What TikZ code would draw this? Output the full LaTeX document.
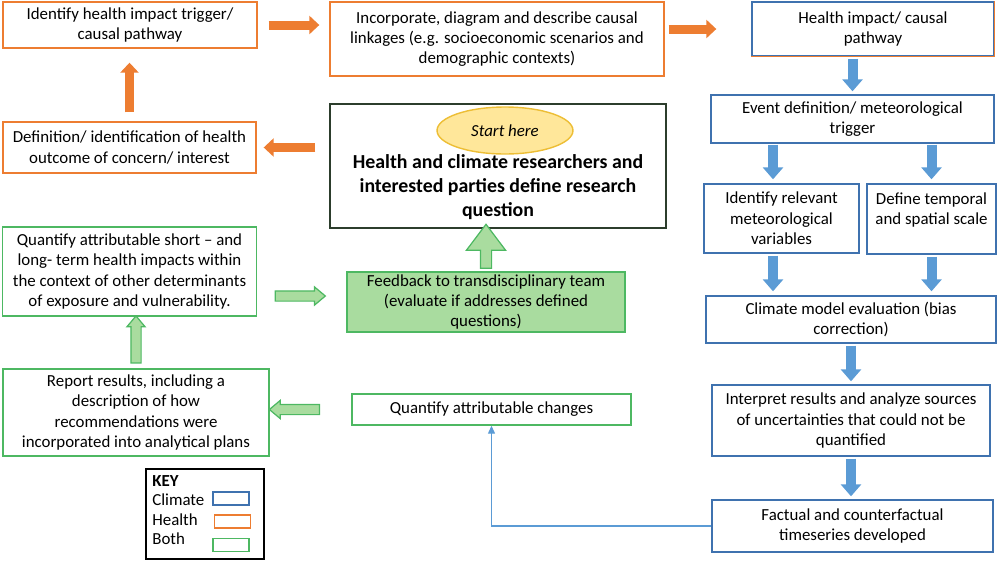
\documentclass[tikz,border=0pt]{standalone}
\usepackage{fontspec}
\setmainfont{Carlito}
\usetikzlibrary{arrows.meta,shapes.geometric,shapes.arrows}

\definecolor{hlorange}{HTML}{ED7D31}
\definecolor{clblue}{HTML}{3F72AF}
\definecolor{arblue}{HTML}{5B9BD5}
\definecolor{bothgreen}{HTML}{4DB862}
\definecolor{fbgreen}{HTML}{A9DC9F}
\definecolor{startfill}{HTML}{FFE79A}
\definecolor{startline}{HTML}{EDBE35}
\definecolor{mainline}{HTML}{2C3D2C}

\begin{document}
\begin{tikzpicture}[
    x=0.02cm, y=-0.02cm,
    font=\fontsize{9.6}{11.6}\selectfont,
    % Kaesten
    box/.style={draw, line width=0.8pt, align=center, inner sep=1pt},
    climate/.style={box, draw=clblue},
    health/.style={box, draw=hlorange},
    both/.style={box, draw=bothgreen},
    % Blockpfeile
    harrow/.style={hlorange, line width=0.18cm, -{Triangle[length=0.2cm, width=0.36cm]}},
    carrow/.style={arblue, line width=0.2cm, -{Triangle[length=0.24cm, width=0.4cm]}},
    garrow/.style={single arrow, draw=bothgreen, fill=fbgreen, line width=0.7pt,
        sloped, allow upside down, inner xsep=0pt, inner ysep=0.09cm,
        text height=0pt, text depth=0pt, minimum width=0.34cm,
        single arrow head extend=0.08cm, single arrow tip angle=80},
    bigarrow/.style={garrow, inner ysep=0.1cm, minimum width=0.76cm,
        single arrow head extend=0.28cm, single arrow tip angle=74},
    thinarr/.style={arblue, line width=0.7pt, -{Triangle[length=0.16cm, width=0.14cm]}},
    keytext/.style={anchor=west, inner sep=0pt},
    swatch/.style={draw, line width=0.7pt, minimum width=0.72cm, minimum height=0.26cm, inner sep=0pt}
]

\useasboundingbox (0,0) rectangle (1000,562);

% --- Gesundheit (orange) ---
\node[health, minimum width=5.08cm, minimum height=0.92cm] (idtrig) at (130,25)
    {Identify health impact trigger/\\causal pathway};
\node[health, minimum width=6.68cm, minimum height=1.48cm] (incorp) at (497,39)
    {Incorporate, diagram and describe causal\\linkages (e.g. socioeconomic scenarios and\\demographic contexts)};
\node[health, minimum width=5.06cm, minimum height=1.02cm] (defout) at (129.5,147.5)
    {Definition/ identification of health\\outcome of concern/ interest};

% --- Start ---
\node[box, draw=mainline, minimum width=6.72cm, minimum height=2.48cm] (main) at (498,166) {};
\node[ellipse, draw=startline, fill=startfill, line width=0.8pt, minimum width=2.72cm,
    minimum height=0.94cm, inner sep=0pt] (start) at (505,130.5) {\textit{Start here}};
\node[align=center, font=\fontsize{11.3}{13.7}\selectfont\bfseries] (question) at (498,187)
    {Health and climate researchers and\\interested parties define research\\question};

% --- Klima (blau) ---
\node[climate, minimum width=4.84cm, minimum height=1.08cm] (hip) at (873,29)
    {Health impact/ causal\\pathway};
\draw[hlorange, line width=0.8pt] (hip.north east) -- (hip.south east) -- (hip.south west);
\node[climate, minimum width=5.66cm, minimum height=0.96cm] (event) at (852.5,119)
    {Event definition/ meteorological\\trigger};
\node[climate, minimum width=3.1cm, minimum height=1.38cm] (relvar) at (781.5,218.5)
    {Identify relevant\\meteorological\\variables};
\node[climate, minimum width=2.58cm, minimum height=1.4cm] (scale) at (931.5,219)
    {Define temporal\\and spatial scale\\~};
\node[climate, minimum width=5.8cm, minimum height=0.94cm] (climeval) at (851,319.5)
    {Climate model evaluation (bias\\correction)};
\node[climate, minimum width=5.56cm, minimum height=1.42cm] (interp) at (851,420.5)
    {Interpret results and analyze sources\\of uncertainties that could not be\\quantified};
\node[climate, minimum width=5.62cm, minimum height=1.04cm] (factual) at (852.5,526)
    {Factual and counterfactual\\timeseries developed};

% --- Beides (gruen) ---
\node[both, minimum width=5.08cm, minimum height=1.78cm] (quantshort) at (129.5,271.5)
    {Quantify attributable short -- and\\long- term health impacts within\\the context of other determinants\\of exposure and vulnerability.};
\node[both, fill=fbgreen, minimum width=5.56cm, minimum height=1.2cm] (feedback) at (486,302)
    {Feedback to transdisciplinary team\\(evaluate if addresses defined\\questions)};
\node[both, minimum width=5.58cm, minimum height=0.62cm] (changes) at (491.5,409.5)
    {Quantify attributable changes};
\node[both, minimum width=5.32cm, minimum height=1.74cm] (report) at (136,412.5)
    {Report results, including a\\description of how\\recommendations were\\incorporated into analytical plans};

% --- Legende ---
\node[box, draw=black, minimum width=2.36cm, minimum height=1.8cm] (key) at (205,514) {};
\node[keytext] (keyhd) at (152,481) {\textbf{KEY}};
\node[keytext] (keycl) at (152,500) {Climate};
\node[keytext] (keyhl) at (152,520) {Health};
\node[keytext] (keybo) at (152,539) {Both};
\node[swatch, draw=clblue] (swcl) at (231,498.5) {};
\node[swatch, draw=hlorange] (swhl) at (232.5,521.5) {};
\node[swatch, draw=bothgreen] (swbo) at (231,545) {};

% --- Pfeile ---
\draw[harrow, shorten <=0.22cm, shorten >=0.2cm] (idtrig.east) -- (idtrig.east -| incorp.west);
\draw[harrow, shorten <=0.08cm, shorten >=0.7cm] (incorp.east |- hip.west) -- (hip.west);
\draw[harrow, shorten <=0.18cm, shorten >=0.28cm] (defout.north) -- (defout.north |- idtrig.south);
\draw[harrow, shorten <=0.28cm, shorten >=0.14cm] (main.west |- defout.east) -- (defout.east);

\draw[carrow, shorten <=0.04cm, shorten >=0.06cm] (hip.south -| event.north) -- (event.north);
\draw[carrow, shorten <=0.02cm, shorten >=0.08cm] ([xshift=-0.17cm]event.south -| relvar.north) -- ([xshift=-0.17cm]relvar.north);
\draw[carrow, shorten <=0.02cm, shorten >=0.08cm] (event.south -| scale.north) -- (scale.north);
\draw[carrow, shorten <=0.04cm, shorten >=0.08cm] ([xshift=-0.17cm]relvar.south) -- ([xshift=-0.17cm]relvar.south |- climeval.north);
\draw[carrow, shorten <=0.04cm, shorten >=0.08cm] (scale.south) -- (scale.south |- climeval.north);
\draw[carrow, shorten <=0.04cm, shorten >=0.06cm] (climeval.south) -- (interp.north);
\draw[carrow, shorten <=0.04cm, shorten >=0.06cm] (interp.south) -- (interp.south |- factual.north);

\coordinate (fbin) at ([yshift=0.12cm]feedback.west);
\path (quantshort.east |- fbin) -- (fbin) node[garrow, pos=0.45, minimum height=1cm] {};
\path (report.north) -- (report.north |- quantshort.south) node[garrow, midway, minimum height=0.94cm] {};
\path (changes.west) -- (changes.west -| report.east) node[garrow, pos=0.66, minimum height=1cm] {};
\path (feedback.north) -- (feedback.north |- main.south) node[bigarrow, midway, minimum height=0.88cm] {};

\draw[thinarr] (factual.west) -| (changes.south);

\end{tikzpicture}
\end{document}
